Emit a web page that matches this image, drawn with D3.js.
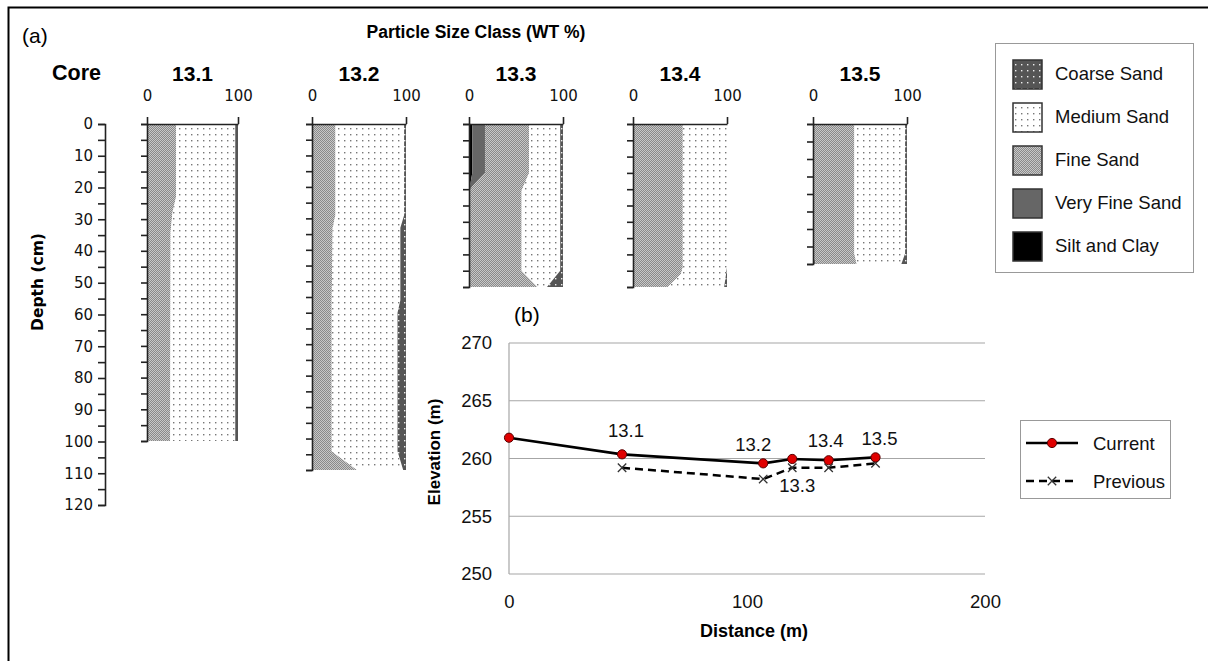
<!DOCTYPE html>
<html>
<head>
<meta charset="utf-8">
<script src="https://cdn.jsdelivr.net/npm/d3@7"></script>
<style>
  body { margin: 0; background: #fff; }
  svg { display: block; font-family: "Liberation Sans", Arial, sans-serif; }
  .core-axis path, .core-axis line { stroke: #222; stroke-width: 1.6; }
  .core-axis text { font-family: "DejaVu Sans", Verdana, sans-serif; font-size: 15px; fill: #111; }
  .grid line { stroke: #a6a6a6; stroke-width: 1.2; }
  .elev-axis text { font-size: 18.5px; fill: #111; }
</style>
</head>
<body>
<div class="container"></div>
<script>
(function(){
  // ---- data ----
  const cores = ['13.1', '13.2', '13.3', '13.4', '13.5'];
  // stacking order left -> right
  const classes = ['Silt and Clay', 'Very Fine Sand', 'Fine Sand', 'Medium Sand', 'Coarse Sand'];
  const legendOrder = ['Coarse Sand', 'Medium Sand', 'Fine Sand', 'Very Fine Sand', 'Silt and Clay'];

  // rows: [depth cm, silt & clay, very fine, fine, medium, coarse] (WT %)
  const core131 = [[0, 0, 0, 32, 65, 3], [23, 0, 0, 32, 65, 3], [28, 0, 0, 28, 69, 3], [34, 0, 0, 26, 71, 3], [100, 0, 0, 25.5, 71.5, 3]];
  const core132 = [[0, 0, 0, 25, 73, 2], [29, 0, 0, 25, 73, 2], [33, 0, 0, 22, 72, 6], [56, 0, 0, 21, 73, 6], [60, 0, 0, 21, 70, 9], [104, 0, 0, 21, 70, 9], [110, 0, 0, 48, 49, 3]];
  const core133 = [[0, 3.5, 13.5, 47, 33, 3], [15, 3.5, 13.5, 47, 33, 3], [19, 1, 3, 54, 39, 3], [20.5, 0, 0, 56, 41, 3], [45, 0, 0, 56, 41, 3], [50, 0, 0, 73, 10, 17]];
  const core134 = [[0, 0, 0, 53, 47, 0], [44, 0, 0, 53, 47, 0], [46, 0, 0, 51, 48, 1], [50, 0, 0, 37, 60, 3]];
  const core135 = [[0, 0, 0, 44, 54, 2], [37, 0, 0, 44, 54, 2], [40, 0, 3, 43.5, 47.5, 6]];
  const coreData = [core131, core132, core133, core134, core135];
  const coreMaxDepth = [100, 110, 50, 50, 40];
  const depthTicks = d3.range(0, 121, 10);

  // profile (b)
  const sites = ['', '13.1', '13.2', '13.3', '13.4', '13.5'];
  const distance = [0, 47.5, 106.8, 119, 134.3, 154];
  const current = [261.8, 260.36, 259.58, 259.96, 259.85, 260.1];
  const previous = [null, 259.2, 258.22, 259.2, 259.2, 259.58];
  const elevTicks = [250, 255, 260, 265, 270];
  const distTicks = [0, 100, 200];

  // ---- layout ----
  const config = {
    w: 1208, h: 661,
    coreTop: 124,
    coreX: [147, 312, 469, 633, 813],
    coreW: [91, 94, 94, 94, 94],
    coreBottom: [441, 470, 287, 287, 264],
    depthAxisX: 105, depthBottom: 505,
    plot: {l: 509, r: 985, t: 343, b: 574},
    labelOff: [[0, 0], [4, -17], [-10, -12], [5, 33], [-3, -13], [4, -12]]
  };

  const fills = {
    'Silt and Clay': '#000',
    'Very Fine Sand': '#666',
    'Fine Sand': 'url(#fine)',
    'Medium Sand': 'url(#medium)',
    'Coarse Sand': 'url(#coarse)'
  };

  const svg = d3.select('.container').append('svg')
    .attr('width', config.w)
    .attr('height', config.h);

  // ---- patterns ----
  const defs = svg.append('defs');
  const fine = defs.append('pattern').attr('id', 'fine')
    .attr('patternUnits', 'userSpaceOnUse').attr('width', 2).attr('height', 2);
  fine.append('rect').attr('width', 2).attr('height', 2).attr('fill', '#c8c8c8');
  fine.append('rect').attr('width', 1).attr('height', 1).attr('fill', '#8a8a8a');
  fine.append('rect').attr('x', 1).attr('y', 1).attr('width', 1).attr('height', 1).attr('fill', '#8a8a8a');

  const medium = defs.append('pattern').attr('id', 'medium')
    .attr('patternUnits', 'userSpaceOnUse').attr('width', 6).attr('height', 6);
  medium.append('rect').attr('width', 6).attr('height', 6).attr('fill', '#fff');
  medium.append('rect').attr('x', 2).attr('y', 2).attr('width', 1.4).attr('height', 1.4).attr('fill', '#777');

  const coarse = defs.append('pattern').attr('id', 'coarse')
    .attr('patternUnits', 'userSpaceOnUse').attr('width', 6).attr('height', 6);
  coarse.append('rect').attr('width', 6).attr('height', 6).attr('fill', '#555');
  coarse.append('rect').attr('x', 2).attr('y', 2).attr('width', 1.4).attr('height', 1.4).attr('fill', '#eee');

  // frame (left + top only)
  svg.append('path')
    .attr('d', `M8.5,${config.h} V7.5 H${config.w}`)
    .attr('fill', 'none').attr('stroke', '#000').attr('stroke-width', 2);

  // ---- titles (a) ----
  svg.append('text').attr('x', 22).attr('y', 43).attr('font-size', 21).text('(a)');
  svg.append('text').attr('x', 476).attr('y', 38).attr('text-anchor', 'middle')
    .attr('font-size', 17.5).attr('font-weight', 'bold').text('Particle Size Class (WT %)');
  svg.append('text').attr('x', 52).attr('y', 80).attr('font-size', 21.5)
    .attr('font-weight', 'bold').text('Core');

  // ---- main depth axis ----
  const depth = d3.scaleLinear().domain([0, 120]).range([config.coreTop, config.depthBottom]);
  svg.append('g')
    .attr('class', 'core-axis')
    .attr('transform', `translate(${config.depthAxisX},0)`)
    .call(d3.axisLeft(depth)
      .tickValues(d3.range(0, 121, 5))
      .tickSize(7).tickPadding(5)
      .tickFormat(d => depthTicks.includes(d) ? d : ''));

  svg.append('text')
    .attr('transform', `translate(43,282) rotate(-90)`)
    .attr('text-anchor', 'middle')
    .attr('font-family', '"DejaVu Sans", Verdana, sans-serif')
    .attr('font-size', 15.5).attr('font-weight', 'bold')
    .text('Depth (cm)');

  // ---- core panels ----
  const stack = d3.stack()
    .keys(d3.range(1, 6))
    .value((d, k) => d[k]);

  cores.forEach((name, i) => {
    const g = svg.append('g').attr('transform', `translate(${config.coreX[i]},0)`);
    const x = d3.scaleLinear().domain([0, 100]).range([0, config.coreW[i]]);
    const y = d3.scaleLinear().domain([0, coreMaxDepth[i]]).range([config.coreTop, config.coreBottom[i]]);

    const area = d3.area()
      .y(d => y(d.data[0]))
      .x0(d => x(d[0]))
      .x1(d => x(d[1]));

    g.selectAll('path.layer')
      .data(stack(coreData[i]))
      .join('path')
      .attr('class', 'layer')
      .attr('fill', (d, k) => fills[classes[k]])
      .attr('d', area);

    g.append('g')
      .attr('class', 'core-axis')
      .call(d3.axisLeft(y)
        .tickValues(d3.range(0, coreMaxDepth[i] + 0.1, 5))
        .tickSize(6).tickFormat(''));

    g.append('g')
      .attr('class', 'core-axis')
      .attr('transform', `translate(0,${config.coreTop})`)
      .call(d3.axisTop(x).tickValues([0, 100]).tickSize(7).tickPadding(16).tickSizeOuter(0));

    g.append('text')
      .attr('x', x(50)).attr('y', 81)
      .attr('text-anchor', 'middle')
      .attr('font-size', 21).attr('font-weight', 'bold')
      .text(name);
  });

  // ---- legend (a) ----
  const legA = svg.append('g');
  legA.append('rect')
    .attr('x', 995.5).attr('y', 43.5).attr('width', 198).attr('height', 229)
    .attr('fill', '#fff').attr('stroke', '#999');
  const legItems = legA.selectAll('g.item')
    .data(legendOrder)
    .join('g')
    .attr('class', 'item')
    .attr('transform', (d, i) => `translate(1013,${74 + i * 43})`);
  legItems.append('rect')
    .attr('x', 0).attr('y', -14).attr('width', 29).attr('height', 29)
    .attr('fill', d => fills[d]).attr('stroke', '#333').attr('stroke-width', 1.5);
  legItems.append('text')
    .attr('x', 42).attr('y', 6)
    .attr('font-size', 18.5).attr('fill', '#111')
    .text(d => d);

  // ---- profile (b) ----
  const p = config.plot;
  const xd = d3.scaleLinear().domain([0, 200]).range([p.l, p.r]);
  const ye = d3.scaleLinear().domain([250, 270]).range([p.b, p.t]);

  svg.append('text').attr('x', 514).attr('y', 322).attr('font-size', 21).text('(b)');

  svg.append('g')
    .attr('class', 'grid')
    .selectAll('line')
    .data(elevTicks)
    .join('line')
    .attr('x1', p.l).attr('x2', p.r)
    .attr('y1', d => ye(d)).attr('y2', d => ye(d));
  svg.append('line')
    .attr('x1', p.l).attr('x2', p.l).attr('y1', p.t).attr('y2', p.b)
    .attr('stroke', '#a6a6a6').attr('stroke-width', 1.2);

  const yAxis = svg.append('g')
    .attr('class', 'elev-axis')
    .attr('transform', `translate(${p.l},0)`)
    .call(d3.axisLeft(ye).tickValues(elevTicks).tickSize(0).tickPadding(17));
  yAxis.select('.domain').remove();
  yAxis.selectAll('text').attr('font-family', '"Liberation Sans", Arial, sans-serif');

  const xAxis = svg.append('g')
    .attr('class', 'elev-axis')
    .attr('transform', `translate(0,${p.b})`)
    .call(d3.axisBottom(xd).tickValues(distTicks).tickSize(0).tickPadding(21));
  xAxis.select('.domain').remove();
  xAxis.selectAll('text').attr('font-family', '"Liberation Sans", Arial, sans-serif');

  svg.append('text')
    .attr('transform', `translate(440,452) rotate(-90)`)
    .attr('text-anchor', 'middle')
    .attr('font-size', 17).attr('font-weight', 'bold')
    .text('Elevation (m)');
  svg.append('text')
    .attr('x', 754).attr('y', 637)
    .attr('text-anchor', 'middle')
    .attr('font-size', 18).attr('font-weight', 'bold')
    .text('Distance (m)');

  const pts = distance.map((d, i) => ({d, cur: current[i], prev: previous[i], site: sites[i], i}));

  const linePrev = d3.line()
    .defined(d => d.prev != null)
    .x(d => xd(d.d)).y(d => ye(d.prev));
  const lineCur = d3.line()
    .x(d => xd(d.d)).y(d => ye(d.cur));

  svg.append('path')
    .datum(pts)
    .attr('fill', 'none').attr('stroke', '#000')
    .attr('stroke-width', 2.5).attr('stroke-dasharray', '8,5')
    .attr('d', linePrev);

  const xSym = d3.symbol(d3.symbolX, 48);
  svg.selectAll('path.prev')
    .data(pts.filter(d => d.prev != null))
    .join('path')
    .attr('class', 'prev')
    .attr('transform', d => `translate(${xd(d.d)},${ye(d.prev)})`)
    .attr('d', xSym)
    .attr('fill', 'none').attr('stroke', '#333').attr('stroke-width', 1.3);

  svg.append('path')
    .datum(pts)
    .attr('fill', 'none').attr('stroke', '#000')
    .attr('stroke-width', 2.6)
    .attr('d', lineCur);

  svg.selectAll('circle.cur')
    .data(pts)
    .join('circle')
    .attr('class', 'cur')
    .attr('cx', d => xd(d.d)).attr('cy', d => ye(d.cur))
    .attr('r', 4.6)
    .attr('fill', '#e00000').attr('stroke', '#5a0000').attr('stroke-width', 1);

  svg.selectAll('text.site')
    .data(pts.filter(d => d.site))
    .join('text')
    .attr('class', 'site')
    .attr('x', d => xd(d.d) + config.labelOff[d.i][0])
    .attr('y', d => ye(d.cur) + config.labelOff[d.i][1])
    .attr('text-anchor', 'middle')
    .attr('font-size', 18.5).attr('fill', '#111')
    .text(d => d.site);

  // ---- legend (b) ----
  const legB = svg.append('g');
  legB.append('rect')
    .attr('x', 1020.5).attr('y', 420.5).attr('width', 150).attr('height', 78)
    .attr('fill', '#fff').attr('stroke', '#999');
  legB.append('line')
    .attr('x1', 1026).attr('x2', 1078).attr('y1', 443).attr('y2', 443)
    .attr('stroke', '#000').attr('stroke-width', 2.6);
  legB.append('circle')
    .attr('cx', 1052).attr('cy', 443).attr('r', 4.6)
    .attr('fill', '#e00000').attr('stroke', '#5a0000');
  legB.append('line')
    .attr('x1', 1026).attr('x2', 1078).attr('y1', 481).attr('y2', 481)
    .attr('stroke', '#000').attr('stroke-width', 2.5).attr('stroke-dasharray', '8,5');
  legB.append('path')
    .attr('transform', 'translate(1052,481)')
    .attr('d', xSym)
    .attr('fill', 'none').attr('stroke', '#333').attr('stroke-width', 1.3);
  legB.append('text').attr('x', 1093).attr('y', 450)
    .attr('font-size', 18.5).attr('fill', '#111').text('Current');
  legB.append('text').attr('x', 1093).attr('y', 488)
    .attr('font-size', 18.5).attr('fill', '#111').text('Previous');
})();
</script>
</body>
</html>
